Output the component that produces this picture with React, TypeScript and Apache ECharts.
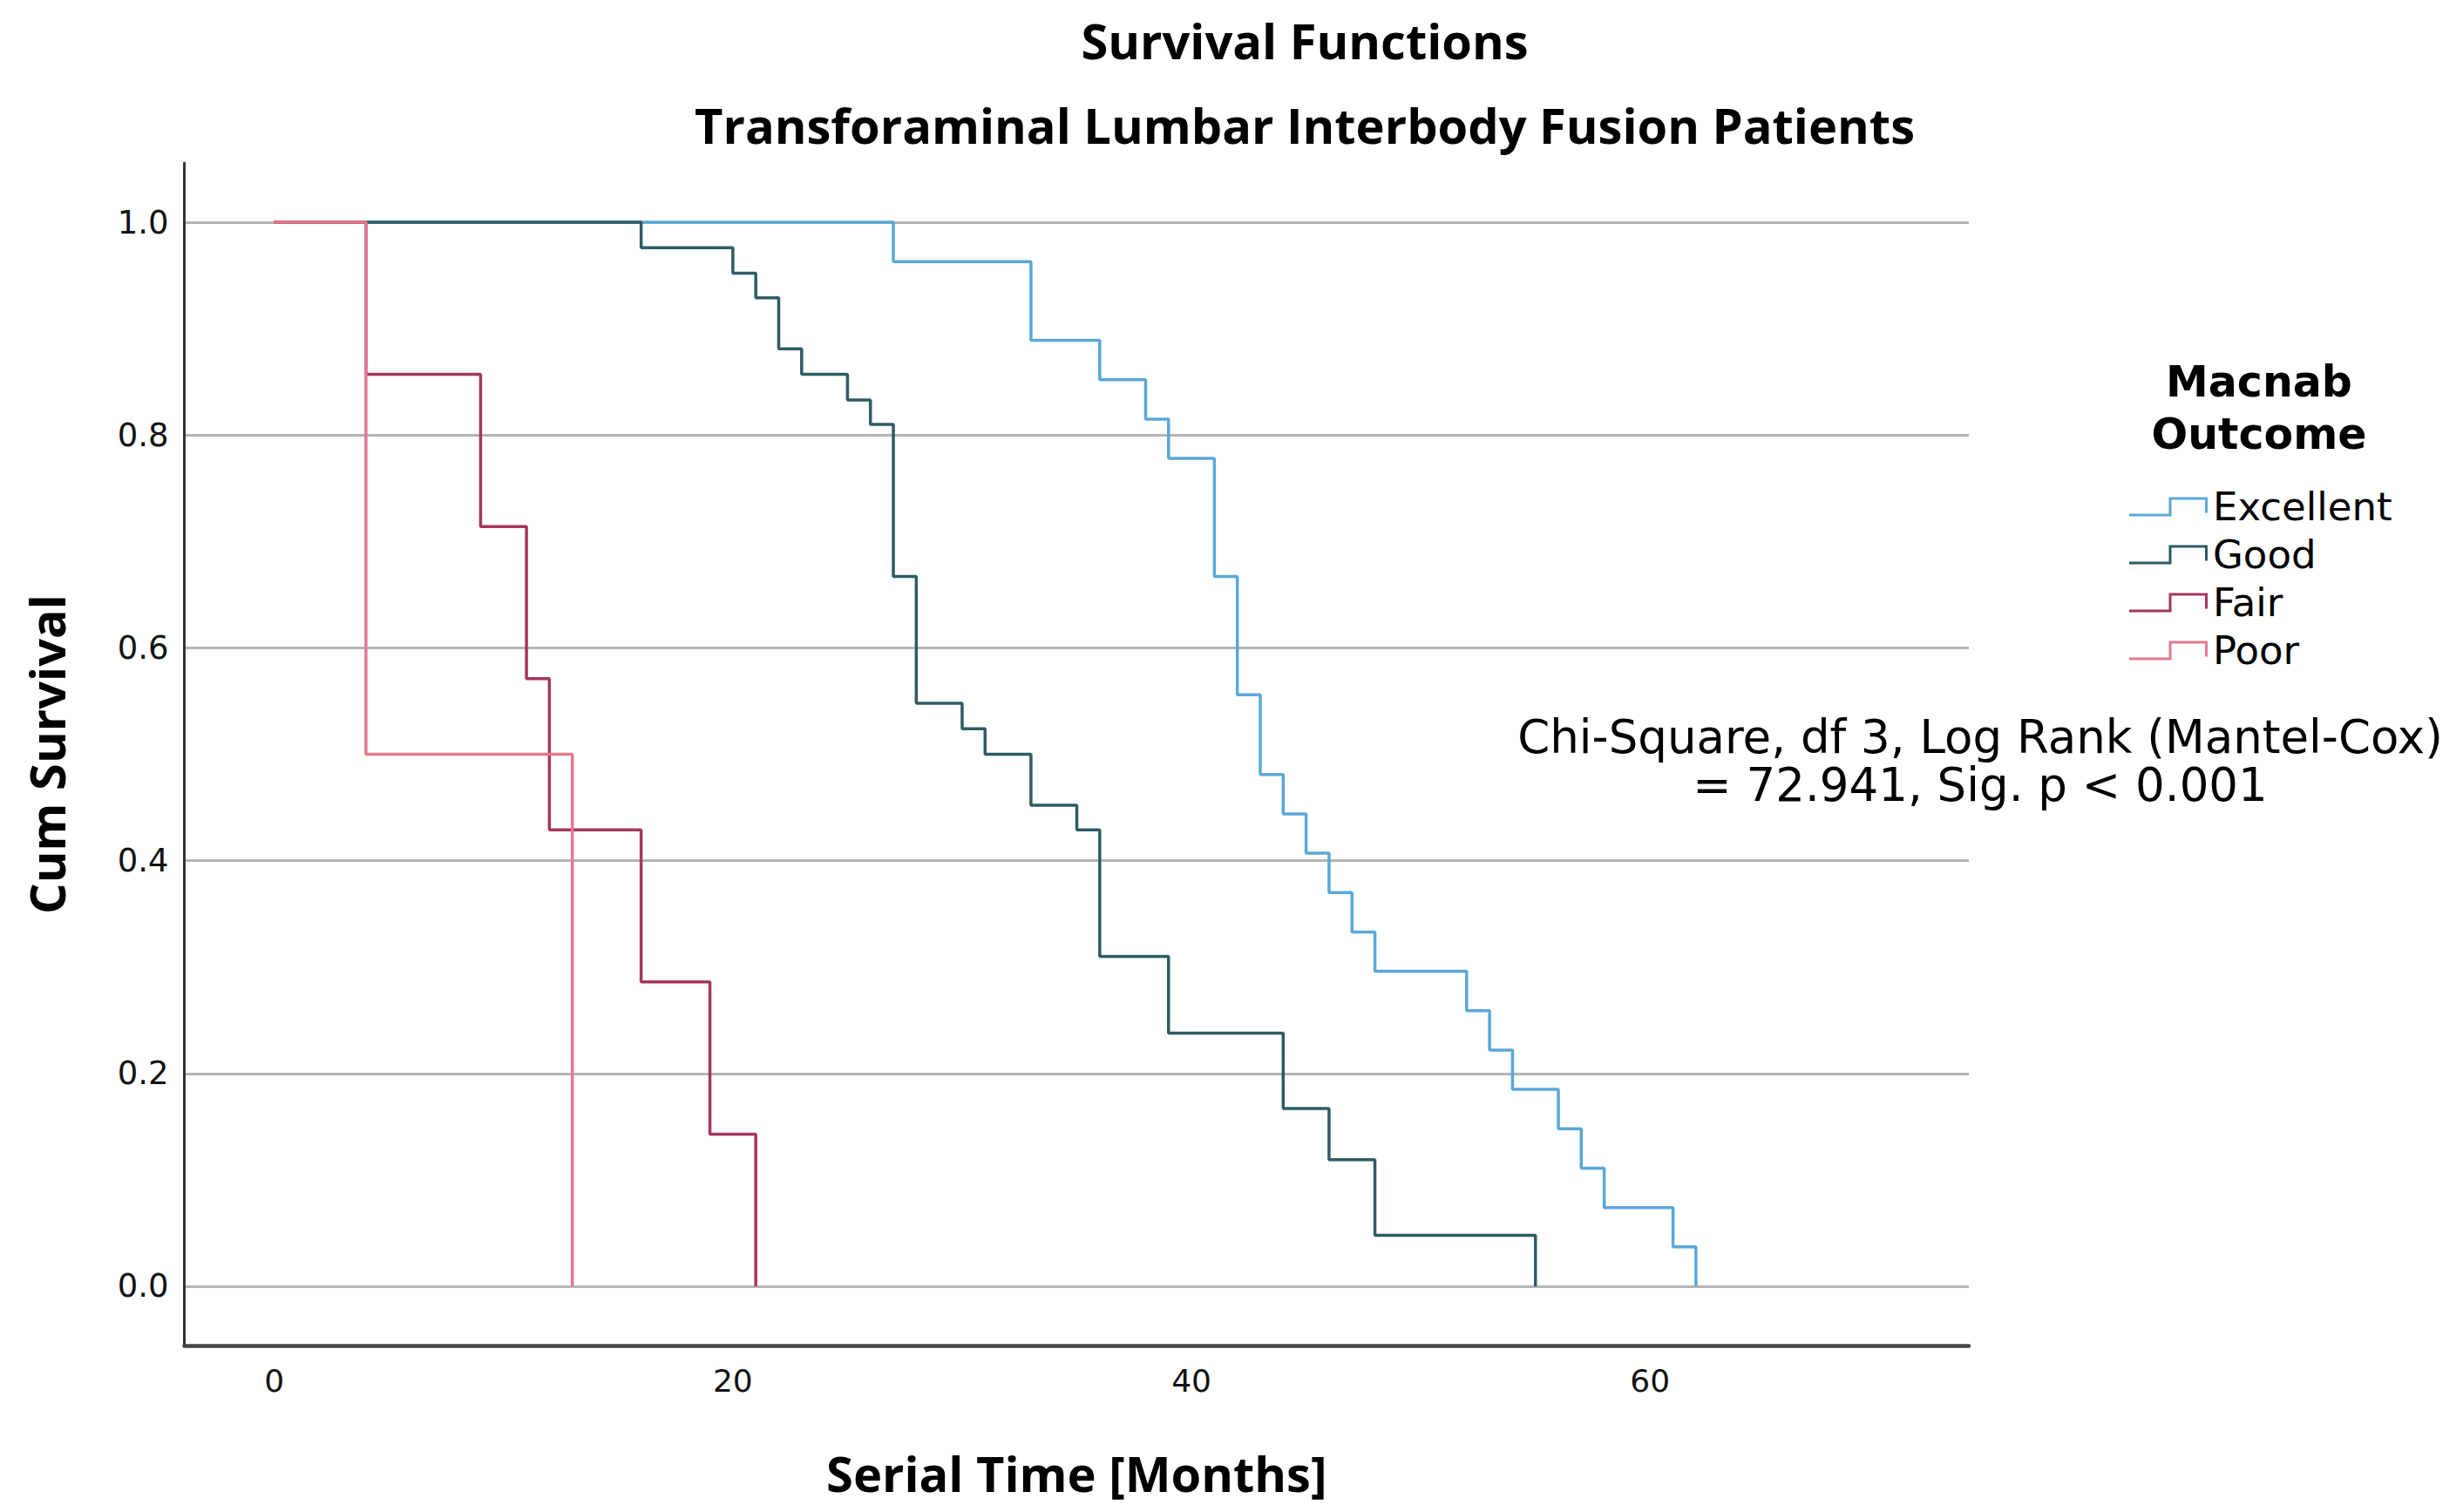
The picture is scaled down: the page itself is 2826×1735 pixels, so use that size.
import React, { useEffect, useRef } from "react";
import * as echarts from "echarts";

const seriesNames = ["Excellent", "Good", "Fair", "Poor"];
const seriesColors = ["#5aa8d8", "#2f5b64", "#a5365f", "#e4798f"];

const excellentTimes = [0, 27, 33, 36, 38, 39, 41, 42, 43, 44, 45, 46, 47, 48, 52, 53, 54, 56, 57, 58, 61, 62];
const excellentSurv = [1, 0.963, 0.889, 0.852, 0.815, 0.778, 0.667, 0.556, 0.481, 0.444, 0.407, 0.37, 0.333, 0.296, 0.259, 0.222, 0.185, 0.148, 0.111, 0.074, 0.037, 0];

const goodTimes = [0, 16, 20, 21, 22, 23, 25, 26, 27, 28, 30, 31, 33, 35, 36, 39, 44, 46, 48, 55];
const goodSurv = [1, 0.976, 0.952, 0.929, 0.881, 0.857, 0.833, 0.81, 0.667, 0.548, 0.524, 0.5, 0.452, 0.429, 0.31, 0.238, 0.167, 0.119, 0.048, 0];

const fairTimes = [0, 4, 9, 11, 12, 16, 19, 21];
const fairSurv = [1, 0.857, 0.714, 0.571, 0.429, 0.286, 0.143, 0];

const poorTimes = [0, 4, 13];
const poorSurv = [1, 0.5, 0];

const xTicks = [0, 20, 40, 60];
const yTicks = [0, 0.2, 0.4, 0.6, 0.8, 1.0];

const titleText = "Survival Functions";
const subtitleText = "Transforaminal Lumbar Interbody Fusion Patients";
const xName = "Serial Time [Months]";
const yName = "Cum Survival";
const legendTitle = "Macnab\nOutcome";
const annotation = "Chi-Square, df 3, Log Rank (Mantel-Cox)\n= 72.941, Sig. p < 0.001";

const ICON =
  "path://M0,19 L48.5,19 L48.5,22 L0,22 Z M45.5,0 L48.5,0 L48.5,22 L45.5,22 Z M45.5,0 L90,0 L90,3 L45.5,3 Z M87,0 L90,0 L90,18 L87,18 Z";

function zip(t: number[], s: number[]) {
  return t.map((v, i) => [v, s[i]]);
}

export default function App() {
  const ref = useRef<HTMLDivElement>(null);
  useEffect(() => {
    if (!ref.current) return;
    const chart = echarts.init(ref.current, null, { renderer: "svg" });
    const datasets = [
      zip(excellentTimes, excellentSurv),
      zip(goodTimes, goodSurv),
      zip(fairTimes, fairSurv),
      zip(poorTimes, poorSurv),
    ];
    const option: any = {
      animation: false,
      backgroundColor: "#ffffff",
      grid: { left: 211.5, right: 567, top: 187, bottom: 191, containLabel: false },
      xAxis: {
        type: "value",
        min: -3.92,
        max: 73.9,
        name: xName,
        nameLocation: "middle",
        nameGap: 118,
        nameTextStyle: { fontFamily: "Open Sans", fontWeight: "bold", fontSize: 56, color: "#000" },
        axisLine: { show: true, onZero: false, lineStyle: { color: "#444444", width: 4.5 } },
        axisTick: { show: false, customValues: xTicks },
        splitLine: { show: false },
        axisLabel: {
          customValues: xTicks,
          fontFamily: "DejaVu Sans",
          fontSize: 36,
          color: "#111",
          margin: 22,
        },
      },
      yAxis: {
        type: "value",
        min: -0.0557,
        max: 1.0557,
        name: yName,
        nameLocation: "middle",
        nameGap: 131,
        nameTextStyle: { fontFamily: "Open Sans", fontWeight: "bold", fontSize: 56, color: "#000" },
        axisLine: { show: true, onZero: false, lineStyle: { color: "#333333", width: 3 } },
        axisTick: { show: false, customValues: yTicks },
        splitLine: { show: true, lineStyle: { color: "#b5b5b5", width: 3 } },
        axisLabel: {
          customValues: yTicks,
          formatter: (v: number) => v.toFixed(1),
          fontFamily: "DejaVu Sans",
          fontSize: 37,
          color: "#111",
          margin: 18,
        },
      },
      legend: {
        orient: "vertical",
        left: 2438,
        top: 554,
        itemWidth: 90,
        itemHeight: 22,
        itemGap: 10,
        icon: ICON,
        data: seriesNames,
        textStyle: { fontFamily: "DejaVu Sans", fontSize: 45, color: "#000", padding: [0, 0, 0, 1] },
      },
      graphic: [
        {
          type: "text",
          x: 1497,
          y: 46,
          style: {
            text: titleText,
            font: "bold 56px 'Open Sans'",
            fill: "#000",
            align: "center",
            verticalAlign: "middle",
            textAlign: "center",
            textVerticalAlign: "middle",
          },
        },
        {
          type: "text",
          x: 1497,
          y: 143,
          style: {
            text: subtitleText,
            font: "bold 56px 'Open Sans'",
            fill: "#000",
            align: "center",
            verticalAlign: "middle",
            textAlign: "center",
            textVerticalAlign: "middle",
          },
        },
        {
          type: "text",
          x: 2592,
          y: 468,
          style: {
            text: legendTitle,
            font: "bold 49px 'DejaVu Sans'",
            lineHeight: 60,
            fill: "#000",
            align: "center",
            verticalAlign: "middle",
            textAlign: "center",
            textVerticalAlign: "middle",
          },
        },
        {
          type: "text",
          x: 2272,
          y: 873,
          style: {
            text: annotation,
            font: "53px 'DejaVu Sans'",
            lineHeight: 55,
            fill: "#000",
            align: "center",
            verticalAlign: "middle",
            textAlign: "center",
            textVerticalAlign: "middle",
          },
        },
      ],
      series: seriesNames.map((name, i) => ({
        name,
        type: "line",
        step: "end",
        symbol: "none",
        data: datasets[i],
        color: seriesColors[i],
        lineStyle: { color: seriesColors[i], width: 3.5 },
        itemStyle: { color: seriesColors[i] },
        z: 2 + i,
      })),
    };
    chart.setOption(option);
    return () => chart.dispose();
  }, []);
  return (
    <div
      ref={ref}
      style={{ position: "fixed", left: 0, top: 0, width: "2826px", height: "1735px", background: "#fff" }}
    />
  );
}
